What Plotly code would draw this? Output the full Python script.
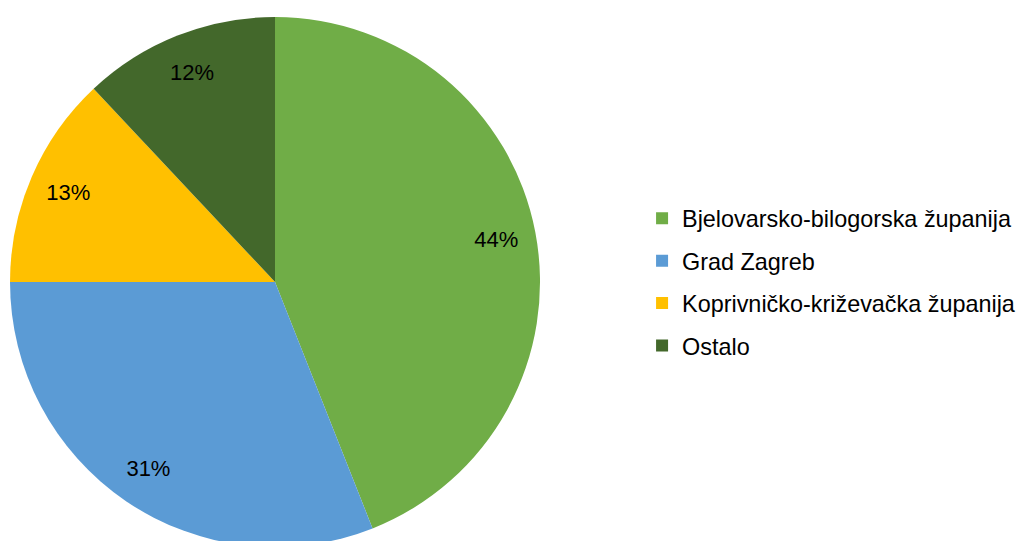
import plotly.graph_objects as go

categories = ["Bjelovarsko-bilogorska županija", "Grad Zagreb",
              "Koprivničko-križevačka županija", "Ostalo"]
values = [44, 31, 13, 12]
colors = ["#70AD47", "#5B9BD5", "#FFC000", "#43682B"]

FONT = "Liberation Sans, Arial, sans-serif"
dom = dict(x=[0, 0.5205], y=[0, 1])

fig = go.Figure()
# filled pie
fig.add_trace(go.Pie(
    labels=categories, values=values, sort=False, direction="clockwise",
    rotation=0, marker=dict(colors=colors, line=dict(width=0)),
    textinfo="none", showlegend=False, domain=dom,
    hoverinfo="label+percent",
))
# transparent ring carrying the percentage labels near the rim
fig.add_trace(go.Pie(
    labels=categories, values=values, sort=False, direction="clockwise",
    rotation=0, hole=0.7,
    marker=dict(colors=["rgba(0,0,0,0)"] * len(values), line=dict(width=0)),
    textinfo="percent", textposition="inside", insidetextorientation="horizontal",
    texttemplate="%{percent:.0%}",
    textfont=dict(family=FONT, size=22, color="black"),
    showlegend=False, domain=dom, hoverinfo="skip",
))
for name, c in zip(categories, colors):
    fig.add_trace(go.Scatter(
        x=[None], y=[None], mode="markers", name=name, legendgroup=name,
        marker=dict(symbol="square", size=12, color=c),
        showlegend=True, hoverinfo="skip",
    ))

fig.update_layout(
    width=1026, height=541,
    margin=dict(l=0, r=0, t=9, b=2),
    paper_bgcolor="white", plot_bgcolor="white",
    xaxis=dict(visible=False), yaxis=dict(visible=False),
    font=dict(family=FONT, color="black"),
    legend=dict(x=0.618, xanchor="left", y=0.5, yanchor="middle",
                font=dict(size=23.4, color="black"), tracegroupgap=9,
                itemsizing="constant", bgcolor="rgba(0,0,0,0)"),
)
fig.write_html("out.html")
